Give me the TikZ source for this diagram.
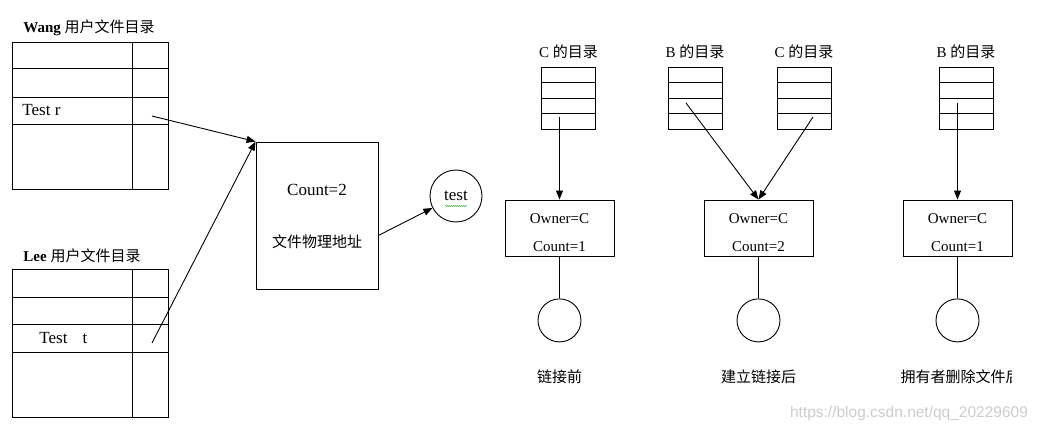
\documentclass[tikz,border=0pt]{standalone}
\usepackage{fontspec}
\setmainfont{Liberation Serif}
\newfontfamily\cjk{Noto Sans CJK SC}
\newfontfamily\wmfont{Liberation Sans}
\newcommand{\zh}[1]{{\cjk #1}}
\usetikzlibrary{arrows.meta, positioning, calc, decorations.pathmorphing}

\begin{document}
\begin{tikzpicture}[
      x=1pt, y=-1pt,
      line width=0.9pt,
      font=\fontsize{15}{18}\selectfont,
      box/.style={draw, inner sep=0pt, align=center},
      lbl/.style={inner sep=0pt},
      big/.style={font=\fontsize{17}{20}\selectfont},
      dirbox/.style={draw, inner sep=0pt, minimum width=54pt, minimum height=62pt,
                     path picture={\foreach \k in {1,2,3}
                       \draw ($(path picture bounding box.north west)!\k/4!(path picture bounding box.south west)$)
                          -- ($(path picture bounding box.north east)!\k/4!(path picture bounding box.south east)$);}},
      ownbox/.style={box, minimum width=109pt, minimum height=56pt, font=\fontsize{15}{28}\selectfont},
      leaf/.style={draw, circle, minimum size=43pt, inner sep=0pt},
      arr/.style={-{Triangle[length=9pt, width=7pt]}}
    ]
    \useasboundingbox (0,0) rectangle (1039,428);

    % user directories
    \node[box, anchor=north west, minimum width=156pt, minimum height=147pt] (wang) at (12,42) {};
    \node[lbl, above right=6pt and 11pt of wang.north west] (wanglbl) {\textbf{Wang} \zh{用户文件目录}};
    \foreach \y in {68,97,124} \draw (12,\y) -- (168,\y);
    \draw (132,42) -- (132,189);
    \node[lbl, big, anchor=west] (wangr) at (22,110.5) {Test r};
    \coordinate (wangp) at (152,116);

    \node[box, anchor=north west, minimum width=156pt, minimum height=148pt] (lee) at (12,269) {};
    \node[lbl, above right=6pt and 11pt of lee.north west] (leelbl) {\textbf{Lee} \zh{用户文件目录}};
    \foreach \y in {297,324,352} \draw (12,\y) -- (168,\y);
    \draw (132,269) -- (132,417);
    \node[lbl, big, anchor=west] (leet) at (39,338) {Test\hspace{15pt}t};
    \coordinate (leep) at (152,343);

    % shared file control block
    \node[box, minimum width=122pt, minimum height=147pt] (fcb) at (317,215.5) {};
    \node[lbl, big] (cnt) at ($(fcb.center)+(0,-26)$) {Count=2};
    \node[lbl] (addr) at ($(fcb.center)+(0,26)$) {\zh{文件物理地址}};
    \node[leaf, big, minimum size=52pt] (test) at (456,196) {test};
    \draw[green!55!black, line width=0.4pt, decorate,
          decoration={snake, amplitude=0.5pt, segment length=2pt}]
          ($(test.center)+(-11,10)$) -- ++(22,0);

    \draw[arr] (wangp) -- (fcb.north west);
    \draw[arr] (leep) -- (fcb.north west);
    \draw[arr] (fcb.-18) -- (test);

    % link states
    \node[dirbox] (cdir1) at (568.5,98) {};
    \node[dirbox] (bdir2) at (695,98) {};
    \node[dirbox] (cdir2) at (804,98) {};
    \node[dirbox] (bdir3) at (966,98) {};
    \node[lbl, above=7pt of cdir1] (cdir1lbl) {C \zh{的目录}};
    \node[lbl, above=7pt of bdir2] (bdir2lbl) {B \zh{的目录}};
    \node[lbl, above=7pt of cdir2] (cdir2lbl) {C \zh{的目录}};
    \node[lbl, above=7pt of bdir3] (bdir3lbl) {B \zh{的目录}};

    \node[ownbox] (own1) at (559.5,228) {\rule{0pt}{19pt}Owner=C\\Count=1};
    \node[ownbox] (own2) at (758.5,228) {\rule{0pt}{19pt}Owner=C\\Count=2};
    \node[ownbox] (own3) at (957.5,228) {\rule{0pt}{19pt}Owner=C\\Count=1};

    \coordinate (p1) at (559.5,117);
    \coordinate (p2) at (686,103);
    \coordinate (p3) at (813,117);
    \coordinate (p4) at (957.5,103);
    \draw[arr] (p1) -- (own1);
    \draw[arr] (p2) -- (own2.north);
    \draw[arr] (p3) -- (own2.north);
    \draw[arr] (p4) -- (own3);

    \foreach \i in {1,2,3} {
      \node[leaf, below=42pt of own\i] (f\i) {};
      \draw (own\i) -- (f\i);
    }
    \node[lbl, below=27pt of f1] (cap1) {\zh{链接前}};
    \node[lbl, below=27pt of f2] (cap2) {\zh{建立链接后}};
    \begin{scope}
      \clip (880,355) rectangle (1011,400);
      \node[lbl, below=27pt of f3, xshift=3pt] (cap3) {\zh{拥有者删除文件后}};
    \end{scope}

    \node[lbl, font=\wmfont\fontsize{15.5}{18}\selectfont, text=gray!40] (wm) at (909,413)
      {https://blog.csdn.net/qq\_20229609};
  \end{tikzpicture}
\end{document}
